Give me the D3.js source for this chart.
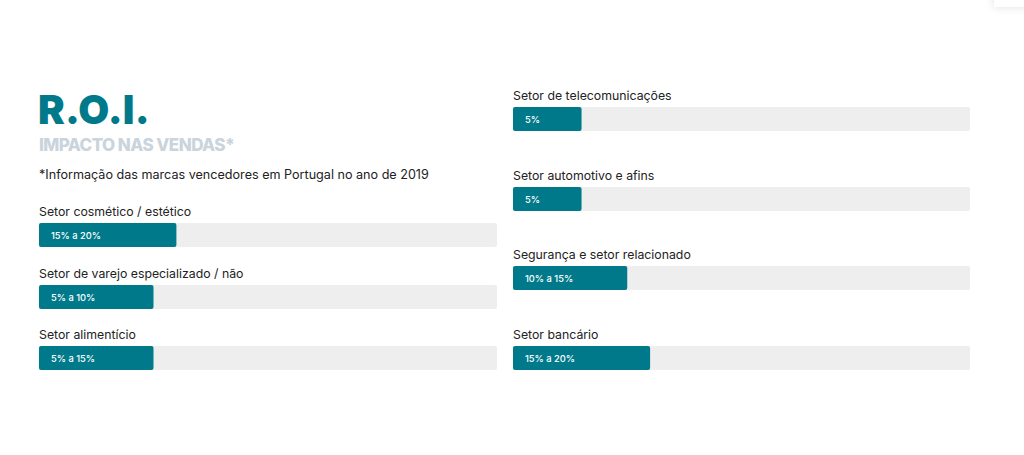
<!DOCTYPE html>
<html><head><meta charset="utf-8">
<script src="https://cdn.jsdelivr.net/npm/d3@7"></script>
<style>html,body{margin:0;padding:0;background:#fff;}svg{display:block;}</style>
</head><body>
<script>
const leftCategories = ["Setor cosmético / estético", "Setor de varejo especializado / não", "Setor alimentício"];
const leftValues = [30, 25, 25];
const leftLabels = ["15% a 20%", "5% a 10%", "5% a 15%"];
const rightCategories = ["Setor de telecomunicações", "Setor automotivo e afins", "Segurança e setor relacionado", "Setor bancário"];
const rightValues = [15, 15, 25, 30];
const rightLabels = ["5%", "5%", "10% a 15%", "15% a 20%"];

const W = 1024, H = 455;
const font = "Inter, 'Open Sans', sans-serif";
const svg = d3.select("body").append("svg").attr("width", W).attr("height", H);

const defs = svg.append("defs");
const f = defs.append("filter").attr("id","sh").attr("x","-50%").attr("y","-50%").attr("width","200%").attr("height","200%");
f.append("feDropShadow").attr("dx",0).attr("dy",0).attr("stdDeviation",4).attr("flood-color","#000").attr("flood-opacity",0.12);
svg.append("rect").attr("x",994).attr("y",-20).attr("width",40).attr("height",27).attr("fill","#fff").attr("filter","url(#sh)");

svg.append("text").attr("x",38).attr("y",124).text("R.O.I.")
  .attr("font-family", font).attr("font-weight",900).attr("font-size",40).attr("fill","#007A8A").attr("letter-spacing",0.2);
svg.append("text").attr("x",39).attr("y",151).text("IMPACTO NAS VENDAS*")
  .attr("font-family", font).attr("font-weight",800).attr("font-size",17).attr("fill","#C9D4DD").attr("letter-spacing",-0.55);
svg.append("text").attr("x",39).attr("y",179).text("*Informação das marcas vencedores em Portugal no ano de 2019")
  .attr("font-family", font).attr("font-size",12.6).attr("fill","#222");

function column(cats, vals, labs, x0, x1, rowY) {
  const x = d3.scaleLinear().domain([0,100]).range([x0, x1]);
  const g = svg.append("g");
  const rows = g.selectAll("g").data(cats.map((c,i)=>({c, v:vals[i], l:labs[i], y:rowY[i]}))).join("g");
  rows.append("text").attr("x", x0).attr("y", d=>d.y - 7).text(d=>d.c)
    .attr("font-family", font).attr("font-size",12.3).attr("fill","#222");
  rows.append("rect").attr("x", x(0)).attr("y", d=>d.y).attr("width", x(100)-x(0)).attr("height",24)
    .attr("rx",2).attr("fill","#EEEEEE");
  rows.append("rect").attr("x", x(0)).attr("y", d=>d.y).attr("width", d=>x(d.v)-x(0)).attr("height",24)
    .attr("rx",2).attr("fill","#007A8A");
  rows.append("text").attr("x", x0+12).attr("y", d=>d.y+15.5).text(d=>d.l)
    .attr("font-family", font).attr("font-size",9.3).attr("font-weight",500).attr("fill","#fff");
}
column(leftCategories, leftValues, leftLabels, 39, 497, [223, 285, 346]);
column(rightCategories, rightValues, rightLabels, 513, 970, [107, 187, 266, 346]);
</script>
</body></html>
